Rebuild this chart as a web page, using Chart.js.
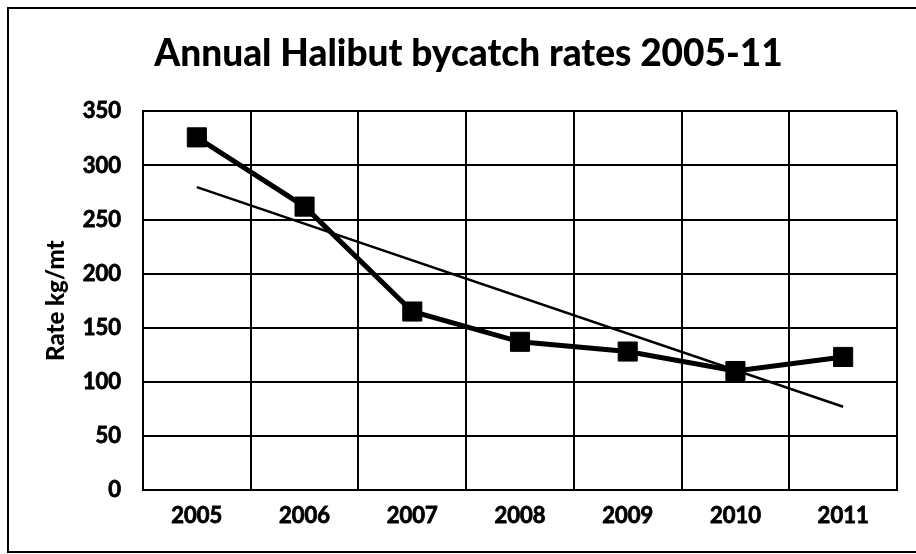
<!DOCTYPE html>
<html>
<head>
<meta charset="utf-8">
<title>Annual Halibut bycatch rates 2005-11</title>
<script src="https://cdn.jsdelivr.net/npm/chart.js@4.4.1/dist/chart.umd.min.js"></script>
<style>
  html, body { margin: 0; padding: 0; background: #fff; overflow: hidden; }
  #wrap { position: relative; width: 916px; height: 554px; overflow: hidden; }
  #frame { position: absolute; left: 7px; top: 7px; width: 909px; height: 546px; border-left: 2px solid #000; border-top: 2px solid #000; border-bottom: 2px solid #000; box-sizing: border-box; }
  canvas { position: absolute; left: 0; top: 0; }
</style>
</head>
<body>
<div id="wrap">
  <div id="frame"></div>
  <canvas id="bycatchChart" width="916" height="554"></canvas>
</div>
<script>
const years = ['2005', '2006', '2007', '2008', '2009', '2010', '2011'];
const bycatchRate = [326, 262, 165, 137, 128, 110, 123];
// straight trend line, only its two end points are plotted
const trendRate = [280, null, null, null, null, null, 77];
const rateTicks = [0, 50, 100, 150, 200, 250, 300, 350];

const fontFamily = "Lato, 'Open Sans', sans-serif";
const tickFont = { family: fontFamily, weight: 'bold', size: 22 };

document.addEventListener('DOMContentLoaded', function () {
  const ctx = document.getElementById('bycatchChart').getContext('2d');
  new Chart(ctx, {
    type: 'line',
    data: {
      labels: years,
      datasets: [{
        label: 'Rate',
        data: bycatchRate,
        borderColor: '#000',
        borderWidth: 5,
        pointStyle: 'rect',
        pointRadius: 13.5,
        pointBackgroundColor: '#000',
        pointBorderColor: '#000',
        pointBorderWidth: 1,
        tension: 0
      }, {
        label: 'Trend',
        data: trendRate,
        spanGaps: true,
        borderColor: '#000',
        borderWidth: 2.5,
        pointRadius: 0,
        tension: 0
      }]
    },
    options: {
      responsive: false,
      animation: false,
      layout: { padding: { left: 40, right: 19, top: 0, bottom: 14 } },
      plugins: {
        legend: { display: false },
        tooltip: { enabled: false },
        title: {
          display: true,
          text: 'Annual Halibut bycatch rates 2005-11',
          color: '#000',
          font: { family: fontFamily, weight: 900, size: 37 },
          padding: { top: 32, bottom: 35 }
        }
      },
      scales: {
        x: {
          offset: true,
          grid: { offset: true, color: '#000', lineWidth: 2, drawTicks: false },
          border: { color: '#000', width: 2 },
          ticks: { color: '#000', font: tickFont, padding: 13, textStrokeColor: '#000', textStrokeWidth: 0.8 },
          afterFit: (scale) => { scale.height = 50; }
        },
        y: {
          min: 0,
          max: 350,
          afterBuildTicks: (scale) => { scale.ticks = rateTicks.map(v => ({ value: v })); },
          grid: { color: '#000', lineWidth: 2, drawTicks: false },
          border: { color: '#000', width: 2 },
          ticks: { color: '#000', font: tickFont, padding: 22, textStrokeColor: '#000', textStrokeWidth: 0.8 },
          title: {
            display: true,
            text: 'Rate kg/mt',
            color: '#000',
            font: { family: fontFamily, weight: 900, size: 24 },
            padding: { top: 2, bottom: 0 }
          },
          afterFit: (scale) => { scale.width = 103; }
        }
      }
    }
  });
});
</script>
</body>
</html>
